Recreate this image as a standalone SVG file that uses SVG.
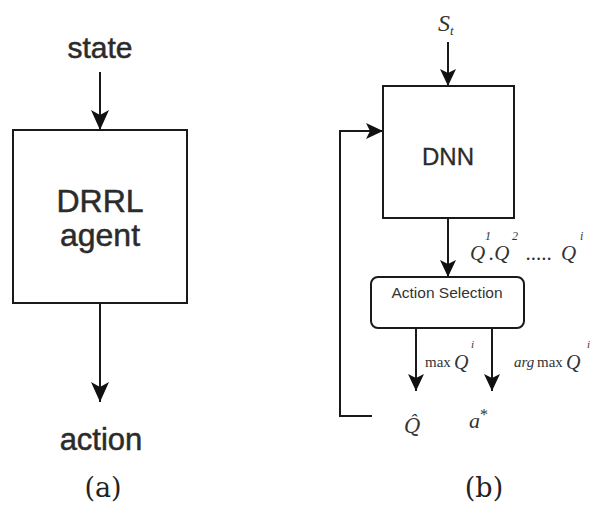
<svg xmlns="http://www.w3.org/2000/svg" width="594" height="508" viewBox="0 0 594 508">
<style>
.ln{fill:none;stroke:#1a1a1a;stroke-width:2}
.bx{fill:#fff;stroke:#1a1a1a;stroke-width:2}
.sans{font-family:"Liberation Sans",Arial,sans-serif;fill:#2b2b2b;stroke:#2b2b2b;stroke-width:0.5;text-anchor:middle}
.ser{font-family:"Liberation Serif","Times New Roman",serif;fill:#333}
.it{font-style:italic}
.cap{font-family:"DejaVu Serif","Liberation Serif",serif;fill:#222;text-anchor:middle;font-size:27px}
</style>
<defs>
<marker id="ah" markerUnits="userSpaceOnUse" markerWidth="20" markerHeight="20" viewBox="0 0 20 20" refX="20" refY="10" orient="auto">
<path d="M0,1 L20,10 L0,19 L5,10 z" fill="#111"/>
</marker>
<marker id="ahs" markerUnits="userSpaceOnUse" markerWidth="17" markerHeight="16" viewBox="0 0 17 16" refX="17" refY="8" orient="auto">
<path d="M0,0 L17,8 L0,16 L4,8 z" fill="#111"/>
</marker>
</defs>
<rect width="594" height="508" fill="#fff"/>
<g id="connectors">
<line class="ln" x1="100" y1="72" x2="100" y2="130" marker-end="url(#ah)"/>
<line class="ln" x1="100" y1="303" x2="100" y2="402" marker-end="url(#ah)"/>
<line class="ln" x1="448" y1="42" x2="448" y2="86" marker-end="url(#ahs)"/>
<line class="ln" x1="448" y1="218" x2="448" y2="277" marker-end="url(#ahs)"/>
<line class="ln" x1="416" y1="328" x2="416" y2="391" marker-end="url(#ahs)"/>
<line class="ln" x1="492" y1="328" x2="492" y2="391" marker-end="url(#ahs)"/>
<path class="ln" d="M372,416 H340 V131 H383" marker-end="url(#ahs)"/>
</g>
<g id="state"><text class="sans" x="100" y="58" font-size="30">state</text></g>
<g id="drrl-agent">
<rect class="bx" x="13" y="130" width="174" height="173"/>
<text class="sans" x="100" y="212" font-size="32">DRRL</text>
<text class="sans" x="100" y="246" font-size="32">agent</text>
</g>
<g id="action"><text class="sans" x="101" y="450" font-size="31">action</text></g>
<g id="cap-a"><text class="cap" x="103" y="497">(a)</text></g>
<g id="st"><text class="ser it" x="438" y="31" font-size="24">S<tspan font-size="13" dy="4">t</tspan></text></g>
<g id="dnn">
<rect class="bx" x="383" y="86" width="131" height="132"/>
<text class="sans" x="448" y="165" font-size="24" style="stroke-width:0.3">DNN</text>
</g>
<g id="qvals" class="ser it">
<text x="470" y="260" font-size="21">Q</text>
<text x="485" y="240" font-size="12">1</text>
<text x="489" y="260" font-size="21">.Q</text>
<text x="512" y="240" font-size="12">2</text>
<text x="526" y="260" font-size="21">.....</text>
<text x="561" y="260" font-size="21">Q</text>
<text x="580" y="240" font-size="12">i</text>
</g>
<g id="action-selection">
<rect class="bx" x="371" y="277" width="153" height="51" rx="7"/>
<text class="sans" x="447" y="298" font-size="15.5" style="fill:#333;stroke:none">Action Selection</text>
</g>
<g id="maxq" class="ser">
<text x="425" y="367" font-size="15">max</text>
<text class="it" x="454" y="369" font-size="20">Q</text>
<text class="it" x="471" y="348" font-size="11">i</text>
</g>
<g id="argmaxq" class="ser">
<text class="it" x="514" y="367" font-size="15">arg</text>
<text x="537" y="367" font-size="15">max</text>
<text class="it" x="566" y="369" font-size="20">Q</text>
<text class="it" x="587" y="348" font-size="11">i</text>
</g>
<g id="qhat"><text class="ser it" x="404" y="433" font-size="22" style="font-family:'DejaVu Serif','Liberation Serif',serif;font-size:20px">Q̂</text></g>
<g id="astar" class="ser it">
<text x="469" y="428" font-size="22">a<tspan font-size="16" dy="-8" style="font-style:normal">*</tspan></text>
</g>
<g id="cap-b"><text class="cap" x="484" y="497">(b)</text></g>
</svg>
